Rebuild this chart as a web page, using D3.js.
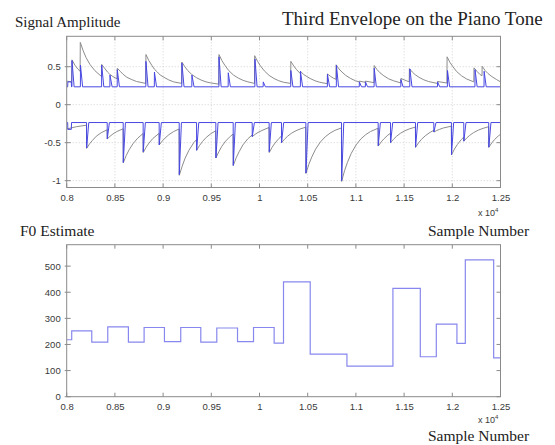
<!DOCTYPE html>
<html><head><meta charset="utf-8">
<script src="https://cdn.jsdelivr.net/npm/d3@7"></script>
<style>body{margin:0;background:#fff} svg{display:block}</style>
</head><body><svg id="c" width="555" height="445"></svg>
<script>
// ---------- data ----------
const xTicks = [8000, 8500, 9000, 9500, 10000, 10500, 11000, 11500, 12000, 12500];
const xTickLabels = ['0.8','0.85','0.9','0.95','1','1.05','1.1','1.15','1.2','1.25'];
const ampTicks = [-1, -0.5, 0, 0.5];
const ampTickLabels = ['-1','-0.5','0','0.5'];
const f0Ticks = [0, 100, 200, 300, 400, 500];
const f0TickLabels = ['0','100','200','300','400','500'];

// upper (positive) envelope, gray trace [sample, amplitude]
const grayUpper = [
[8000,0.31],[8050,0.30],
[8055,0.59],[8085,0.52],[8115,0.47],[8139,0.44],
[8141,0.82],[8171,0.71],[8201,0.62],[8241,0.53],[8291,0.45],[8361,0.37],
[8363,0.53],[8393,0.48],[8423,0.43],[8447,0.40],[8479,0.37],[8523,0.34],
[8525,0.48],[8555,0.44],[8585,0.40],[8625,0.36],[8675,0.33],[8725,0.305],[8820,0.28],
[8822,0.66],[8852,0.58],[8882,0.52],[8908,0.47],
[8940,0.43],[8970,0.39],[9010,0.36],[9060,0.325],[9110,0.30],[9193,0.28],
[9195,0.56],[9225,0.50],[9255,0.45],[9295,0.40],[9345,0.356],[9395,0.324],[9445,0.30],[9495,0.286],[9578,0.27],
[9580,0.66],[9610,0.58],[9640,0.52],[9680,0.45],[9730,0.39],[9780,0.35],[9830,0.32],[9880,0.30],[9948,0.28],
[9950,0.645],[9980,0.57],[10010,0.51],[10050,0.445],[10100,0.385],[10150,0.345],[10200,0.315],[10250,0.295],[10323,0.28],
[10325,0.57],[10355,0.51],[10385,0.46],[10423,0.41],
[10425,0.44],[10455,0.40],[10485,0.375],[10525,0.345],[10575,0.315],[10625,0.295],[10703,0.276],
[10705,0.405],[10735,0.375],[10765,0.35],[10793,0.334],
[10795,0.525],[10825,0.47],[10855,0.43],[10895,0.385],[10945,0.345],[10995,0.315],[11034,0.30],[11036,0.31],[11097,0.295],[11099,0.31],[11188,0.29],
[11190,0.515],[11220,0.46],[11250,0.42],[11290,0.38],[11340,0.34],[11390,0.315],[11465,0.286],
[11467,0.345],[11500,0.327],[11553,0.30],
[11555,0.475],[11585,0.43],[11615,0.395],[11655,0.36],[11705,0.327],[11755,0.304],[11845,0.28],
[11847,0.305],[11944,0.285],
[11946,0.63],[11976,0.555],[12006,0.50],[12046,0.435],[12096,0.38],[12146,0.34],[12223,0.30],
[12225,0.485],[12255,0.44],[12285,0.40],[12308,0.38],
[12310,0.505],[12340,0.45],[12370,0.41],[12410,0.37],[12460,0.33],[12500,0.30]
];

// lower (negative) envelope, gray trace
const grayLower = [
[8000,-0.32],[8100,-0.29],[8205,-0.27],
[8207,-0.575],[8237,-0.515],[8267,-0.47],[8307,-0.415],[8357,-0.37],[8419,-0.33],
[8421,-0.45],[8451,-0.414],[8481,-0.384],[8521,-0.353],[8585,-0.317],
[8587,-0.765],[8617,-0.67],[8647,-0.595],[8687,-0.515],[8737,-0.44],[8792,-0.38],
[8794,-0.63],[8824,-0.56],[8854,-0.505],[8894,-0.445],[8958,-0.377],
[8960,-0.53],[8990,-0.48],[9020,-0.44],[9060,-0.395],[9110,-0.353],[9166,-0.32],
[9168,-0.93],[9198,-0.81],[9228,-0.705],[9268,-0.60],[9318,-0.50],[9346,-0.46],
[9348,-0.60],[9378,-0.537],[9408,-0.485],[9448,-0.43],[9498,-0.38],[9546,-0.343],
[9548,-0.70],[9578,-0.62],[9608,-0.55],[9648,-0.48],[9698,-0.416],[9726,-0.387],
[9728,-0.80],[9758,-0.70],[9788,-0.62],[9828,-0.53],[9878,-0.45],[9923,-0.40],
[9925,-0.42],[9955,-0.39],[9985,-0.365],[10025,-0.34],[10099,-0.30],
[10101,-0.63],[10131,-0.56],[10161,-0.505],[10201,-0.445],[10227,-0.414],
[10229,-0.50],[10259,-0.455],[10289,-0.418],[10329,-0.378],[10379,-0.342],[10429,-0.316],[10480,-0.297],
[10482,-0.905],[10512,-0.785],[10542,-0.69],[10582,-0.585],[10632,-0.49],[10682,-0.423],[10732,-0.374],[10782,-0.338],[10850,-0.306],
[10852,-1.01],[10882,-0.87],[10912,-0.76],[10952,-0.64],[11002,-0.53],[11052,-0.45],[11102,-0.394],[11152,-0.353],[11230,-0.31],
[11232,-0.545],[11262,-0.49],[11292,-0.448],[11332,-0.40],[11358,-0.377],
[11360,-0.50],[11390,-0.455],[11420,-0.418],[11460,-0.378],[11510,-0.342],[11560,-0.316],[11617,-0.295],
[11619,-0.56],[11649,-0.504],[11679,-0.458],[11719,-0.41],[11769,-0.364],[11807,-0.338],
[11809,-0.36],[11839,-0.34],[11869,-0.324],[11909,-0.306],[11990,-0.283],
[11992,-0.66],[12022,-0.585],[12052,-0.525],[12092,-0.46],[12118,-0.427],
[12120,-0.48],[12150,-0.438],[12180,-0.404],[12220,-0.368],[12270,-0.335],[12320,-0.311],[12377,-0.29],
[12379,-0.56],[12409,-0.504],[12439,-0.458],[12479,-0.41],[12500,-0.39]
];

// blue trace: baseline levels and spikes
const blueUpBase = 0.235, blueDnBase = -0.235;
const blueUpStart = 0.30, blueDnStart = -0.325;
const blueUpOn = [8055,8143,8363,8449,8525,8822,8910,9195,9299,9580,9676,9953,10039,10325,10425,10705,10798,11036,11099,11190,11467,11560,11847,11950,12236,12330];
const blueUpPeak = [0.58,0.52,0.52,0.39,0.46,0.57,0.43,0.55,0.39,0.63,0.42,0.60,0.30,0.45,0.44,0.40,0.52,0.30,0.30,0.48,0.33,0.47,0.30,0.45,0.46,0.44];
const blueDnOn = [8207,8421,8587,8794,8960,9168,9348,9548,9728,9925,10101,10229,10482,10852,11232,11360,11619,11809,11992,12120,12379];
const blueDnPeak = [-0.57,-0.45,-0.76,-0.62,-0.53,-0.92,-0.60,-0.70,-0.80,-0.42,-0.62,-0.50,-0.90,-1.0,-0.54,-0.50,-0.56,-0.36,-0.66,-0.48,-0.56];

// F0 estimate (step function): segment start samples and values in Hz
const f0Edges = [8000,8052,8260,8426,8640,8803,9014,9183,9391,9557,9772,9938,10152,10249,10526,10907,11384,11668,11834,12048,12135,12429];
const f0Values = [218,252,209,267,209,265,211,265,209,263,211,265,205,440,163,117,415,153,278,204,524,149];
const f0End = 12500;

// ---------- drawing ----------
const svg = d3.select('#c');
const L = 66.7, R = 500.5;
const top1 = 36.3, bot1 = 187.5, top2 = 244.7, bot2 = 396.7;
const x = d3.scaleLinear().domain([8000, 12500]).range([L, R]);
const yA = d3.scaleLinear().domain([-1.09, 0.9]).range([bot1, top1]);
const yF = d3.scaleLinear().domain([0, 582]).range([bot2, top2]);

const frameCol = '#8a8a8a', labCol = '#3a3a3a';
const sans = 'Arial, "Liberation Sans", Helvetica, sans-serif';
const serif = '"Times New Roman", "Liberation Serif", Times, serif';

const defs = svg.append('defs');
defs.append('clipPath').attr('id','cp1').append('rect').attr('x',L).attr('y',top1).attr('width',R-L).attr('height',bot1-top1);
defs.append('clipPath').attr('id','cp2').append('rect').attr('x',L).attr('y',top2).attr('width',R-L).attr('height',bot2-top2);

// grid on top plot
const g1 = svg.append('g');
g1.selectAll('line.vg').data(xTicks.slice(1, -1)).join('line')
  .attr('x1', d => x(d)).attr('x2', d => x(d)).attr('y1', top1).attr('y2', bot1)
  .attr('stroke', '#c8c8c8').attr('stroke-width', 0.8).attr('stroke-dasharray', '1,2');
g1.selectAll('line.hg').data(ampTicks).join('line')
  .attr('x1', L).attr('x2', R).attr('y1', d => yA(d)).attr('y2', d => yA(d))
  .attr('stroke', '#c8c8c8').attr('stroke-width', 0.8).attr('stroke-dasharray', '1,2');

const lineA = d3.line().x(d => x(d[0])).y(d => yA(d[1]));

function bluePts(base, start, ons, peaks) {
  const pts = [[8000, base], [8010, base], [8012, start], [8048, start], [8050, base]];
  ons.forEach((o, i) => {
    pts.push([o - 1, base], [o, peaks[i]], [o + 22, base]);
  });
  pts.push([12500, base]);
  return pts;
}

const lines1 = svg.append('g').attr('clip-path', 'url(#cp1)');
lines1.append('path').attr('d', lineA(grayUpper)).attr('fill','none').attr('stroke','#8c8c8c').attr('stroke-width',1);
lines1.append('path').attr('d', lineA(grayLower)).attr('fill','none').attr('stroke','#8c8c8c').attr('stroke-width',1);
lines1.append('path').attr('d', lineA(bluePts(blueUpBase, blueUpStart, blueUpOn, blueUpPeak))).attr('fill','none').attr('stroke','#4848e2').attr('stroke-width',1);
lines1.append('path').attr('d', lineA(bluePts(blueDnBase, blueDnStart, blueDnOn, blueDnPeak))).attr('fill','none').attr('stroke','#4848e2').attr('stroke-width',1);

// F0 step line
const f0Pts = f0Edges.map((e, i) => [e, f0Values[i]]).concat([[f0End, f0Values[f0Values.length - 1]]]);
const lineF = d3.line().x(d => x(d[0])).y(d => yF(d[1])).curve(d3.curveStepAfter);
svg.append('g').attr('clip-path', 'url(#cp2)').append('path').attr('d', lineF(f0Pts))
  .attr('fill','none').attr('stroke','#8787ee').attr('stroke-width',1.2);

// axes
function axes(yScale, yTicks, yLabels, top, bot) {
  const g = svg.append('g');
  const ax = g.append('g').attr('transform', `translate(0,${bot})`)
    .call(d3.axisBottom(x).tickValues(xTicks).tickFormat((d, i) => xTickLabels[i]).tickSize(0).tickPadding(6.5));
  ax.select('.domain').remove();
  ax.selectAll('text').attr('fill', labCol).style('font-family', sans).style('font-size', '9.5px');
  const ay = g.append('g').attr('transform', `translate(${L},0)`)
    .call(d3.axisLeft(yScale).tickValues(yTicks).tickFormat((d, i) => yLabels[i]).tickSize(0).tickPadding(6));
  ay.select('.domain').remove();
  ay.selectAll('text').attr('fill', labCol).style('font-family', sans).style('font-size', '9.5px');
  const tk = g.append('g').attr('stroke', frameCol).attr('stroke-width', 1);
  xTicks.forEach(t => {
    tk.append('line').attr('x1', x(t)).attr('x2', x(t)).attr('y1', bot).attr('y2', bot - 4);
    tk.append('line').attr('x1', x(t)).attr('x2', x(t)).attr('y1', top).attr('y2', top + 4);
  });
  yTicks.forEach(t => {
    tk.append('line').attr('x1', L - 2).attr('x2', L + 4).attr('y1', yScale(t)).attr('y2', yScale(t));
    tk.append('line').attr('x1', R).attr('x2', R - 4).attr('y1', yScale(t)).attr('y2', yScale(t));
  });
  g.append('rect').attr('x', L).attr('y', top).attr('width', R - L).attr('height', bot - top)
    .attr('fill', 'none').attr('stroke', frameCol).attr('stroke-width', 1);
}
axes(yA, ampTicks, ampTickLabels, top1, bot1);
axes(yF, f0Ticks, f0TickLabels, top2, bot2);

// texts
function txt(s, xx, yy, size, fam, anchor) {
  return svg.append('text').attr('x', xx).attr('y', yy).attr('fill', '#222')
    .style('font-family', fam).style('font-size', size + 'px').attr('text-anchor', anchor || 'start').text(s);
}
txt('Signal Amplitude', 15, 26.5, 15, serif);
txt('Third Envelope on the Piano Tone', 282, 25, 19, serif);
txt('F0 Estimate', 20, 236, 15.5, serif);
txt('Sample Number', 428, 236, 15.5, serif);
txt('Sample Number', 428, 440.5, 15.5, serif);
function x10(yy) {
  const t = svg.append('text').attr('x', 478).attr('y', yy).attr('fill', labCol)
    .style('font-family', sans).style('font-size', '9px');
  t.append('tspan').text('x 10');
  t.append('tspan').attr('dy', -4).style('font-size', '6px').text('4');
}
x10(216);
x10(423);
</script>
</body></html>
